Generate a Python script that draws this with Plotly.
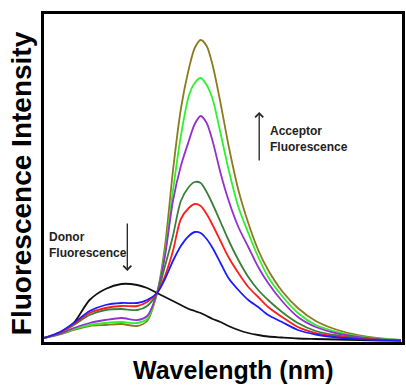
import plotly.graph_objects as go

# Wavelength grid (nm, arbitrary axis without ticks)
wavelength = [440, 448, 455, 463, 471, 479, 487, 492, 497, 501, 505, 509, 513, 516, 519,
              522, 525, 529, 533, 538, 543, 548, 553, 560, 568, 577, 588, 599, 610, 620]

donor_only = [3, 8, 18, 41, 52, 57, 56, 53, 48, 44, 40, 36, 32, 30, 28,
              25, 22, 19, 15, 11, 8, 6, 4.5, 3.5, 2.5, 2, 1.5, 1, 0.5, 0.3]
series_blue = [3, 9, 18, 30, 36, 38, 38, 41, 48, 62, 80, 95, 105, 109, 108,
               102, 93, 78, 63, 51, 41, 34, 26, 19, 11, 6.5, 3.5, 1.8, 0.9, 0.4]
series_red = [3, 8.5, 17, 28, 33, 35, 35, 39, 48, 65, 90, 122, 133, 137, 135,
              127, 116, 100, 84, 68, 54, 44, 34, 24, 14, 8, 4.5, 2.3, 1.1, 0.5]
series_darkgreen = [3, 8, 16, 26, 31, 32, 31, 35, 48, 75, 105, 140, 154, 159, 158,
                    149, 137, 119, 101, 81, 64, 51, 41, 29, 18, 10, 5.5, 2.8, 1.3, 0.5]
series_purple = [3, 7, 13, 18, 21, 23, 21, 25, 48, 85, 140, 175, 200, 217, 225,
                 218, 200, 168, 141, 114, 94, 74, 58, 40, 24, 14, 7.5, 3.8, 1.7, 0.7]
series_green = [3, 7, 12, 16, 18, 19, 18, 22, 48, 88, 150, 205, 245, 258, 263,
                256, 242, 208, 172, 134, 108, 84, 64, 45, 28, 16, 9, 4.5, 2, 0.8]
series_olive = [3, 6.5, 11, 15, 16, 17, 15, 20, 48, 95, 170, 232, 272, 293, 301,
                295, 276, 238, 196, 151, 118, 91, 71, 50, 33, 20, 11, 5.5, 2.5, 1]

series = [
    ("Donor", donor_only, "#111111"),
    ("6", series_olive, "#8c7b1e"),
    ("5", series_green, "#2ef02e"),
    ("4", series_purple, "#9430d0"),
    ("3", series_darkgreen, "#3a7f3a"),
    ("2", series_red, "#ff1c1c"),
    ("1", series_blue, "#1c1cff"),
]

fig = go.Figure()
for name, vals, col in series:
    fig.add_trace(go.Scatter(x=wavelength, y=vals, mode="lines", name=name,
                             line=dict(color=col, width=1.8, shape="spline", smoothing=0.8)))

W, H = 406, 385
L, R, T, B = 44, 1, 14, 43
pw, ph = W - L - R, H - T - B


def px(xp):
    return (xp - L) / pw


def py(yp):
    return (H - B - yp) / ph


fig.update_layout(
    width=W, height=H,
    margin=dict(l=L, r=R, t=T, b=B),
    paper_bgcolor="white", plot_bgcolor="white",
    showlegend=False,
    font=dict(family="Liberation Sans, Arial, sans-serif", color="black"),
    xaxis=dict(range=[440, 620.5], showticklabels=False, ticks="", showgrid=False,
               zeroline=False, showline=True, linecolor="black", linewidth=3, mirror=True),
    yaxis=dict(range=[-1, 327], showticklabels=False, ticks="", showgrid=False,
               zeroline=False, showline=True, linecolor="black", linewidth=3, mirror=True),
)

annotations = [
    dict(text="<b>Wavelength (nm)</b>", x=px(235), y=py(370), xref="paper", yref="paper",
         showarrow=False, font=dict(size=25, color="black"), xanchor="center", yanchor="middle"),
    dict(text="<b>Fluorescence Intensity</b>", x=px(21), y=py(183), xref="paper", yref="paper",
         showarrow=False, textangle=-90, font=dict(size=28, color="black"),
         xanchor="center", yanchor="middle"),
    dict(text="<b>Donor</b><br><b>Fluorescence</b>", x=px(47), y=py(245), xref="paper", yref="paper",
         showarrow=False, align="left", font=dict(size=12, color="#222222"),
         xanchor="left", yanchor="middle"),
    dict(text="<b>Acceptor</b><br><b>Fluorescence</b>", x=px(270), y=py(139), xref="paper", yref="paper",
         showarrow=False, align="left", font=dict(size=12, color="#222222"),
         xanchor="left", yanchor="middle"),
    dict(text="", x=px(128), y=py(271), xref="paper", yref="paper", showarrow=True,
         ax=0, ay=-49, arrowhead=4, arrowsize=1.2, arrowwidth=1.3, arrowcolor="#222222"),
    dict(text="", x=px(261), y=py(112), xref="paper", yref="paper", showarrow=True,
         ax=0, ay=50, arrowhead=4, arrowsize=1.2, arrowwidth=1.3, arrowcolor="#222222"),
]
fig.update_layout(annotations=annotations)

fig.write_html("out.html", config={"displayModeBar": False},
               post_script="document.body.style.margin='0';document.body.style.padding='0';")
